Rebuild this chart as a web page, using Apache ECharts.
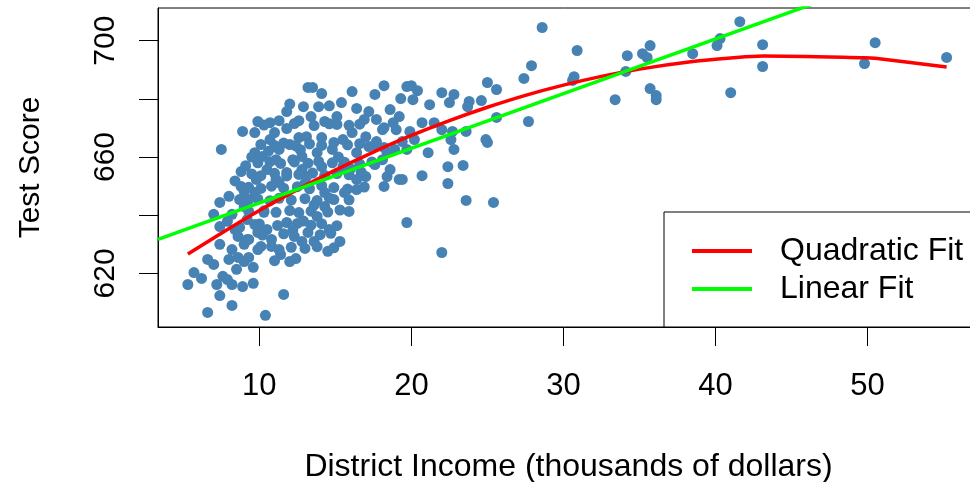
<!DOCTYPE html>
<html>
<head>
<meta charset="utf-8">
<script src="https://cdn.jsdelivr.net/npm/echarts@6/dist/echarts.min.js"></script>
<style>
html,body{margin:0;padding:0;background:#fff;}
#chart{width:970px;height:482px;}
</style>
</head>
<body>
<div id="chart"></div>
<script>
// District income (thousands of dollars) vs test score
const districts = [
  [5.3,616.2],[5.7,620.3],[6.2,618.3],[6.6,606.6],[6.6,624.8],[7.0,623.1],[7.2,616.2],[7.4,612.4],[7.6,619.0],[7.4,630.0],
  [7.4,636.1],[7.4,644.4],[8.2,628.2],[8.2,609.0],[8.2,616.2],[8.9,615.5],[8.0,624.8],[9.0,624.1],[7.5,662.6],[8.8,649.9],
  [8.4,635.1],[8.6,632.7],[9.0,643.0],[8.2,640.3],[9.2,638.5],[8.8,655.0],[8.9,668.8],[9.6,616.6],[9.6,622.1],[10.4,605.6],
  [9.9,628.2],[10.1,629.3],[9.7,647.8],[10.3,641.0],[10.5,635.1],[9.9,634.1],[10.8,629.3],[7.0,640.3],[7.9,637.9],[8.7,635.8],
  [9.3,631.7],[9.0,630.0],[8.6,625.5],[9.3,625.5],[8.5,621.4],[7.9,617.9],
  [9.7,668.4],[9.9,672.2],[10.7,671.8],[11.3,672.5],[11.8,675.6],[12.6,672.5],[12.9,677.3],[13.2,683.9],[11.0,668.4],[11.8,669.8],
  [10.7,666.0],[12.6,666.7],[9.7,661.5],[10.2,660.2],[11.3,662.6],[12.0,664.3],[11.1,659.1],[12.2,659.1],[10.5,655.7],[9.8,652.3],
  [11.8,654.7],[12.8,655.7],[11.1,652.3],
  [13.5,683.9],[14.1,681.8],[16.1,682.5],[18.2,684.5],[17.6,681.5],[19.3,680.1],[19.7,684.2],[15.4,678.7],[16.4,676.7],[13.9,677.3],
  [13.4,673.9],[14.3,672.2],[15.1,673.9],[15.1,671.2],[17.2,675.6],[17.7,672.9],[18.6,676.3],[19.2,673.9],[16.9,672.9],[16.1,668.4],
  [15.5,666.0],[14.1,666.7],[13.1,667.0],[17.0,667.0],[18.1,669.4],[19.0,669.4],[19.4,665.3],[14.8,662.6],[13.8,661.5],[16.4,661.5],
  [17.2,663.6],[18.4,661.5],[12.8,660.2],[14.1,656.7],[15.5,656.7],[17.0,653.3],[18.4,653.3],[19.2,652.3],[16.4,652.3],[13.1,653.3],
  [15.9,641.3],[15.3,631.0],[14.5,627.6],[12.4,625.1],[11.4,626.5],[11.6,612.8],[16.4,648.8],[14.6,635.1],[13.6,631.0],[12.8,631.0],
  [11.8,637.5],[13.8,639.6],[13.2,634.1],[12.3,632.7],[10.8,631.7],[11.3,628.2],[15.6,647.8],[14.9,645.4],[14.3,647.8],
  [20.0,684.5],[20.4,682.8],[20.1,679.7],[22.0,682.1],[22.8,681.5],[22.5,678.7],[23.8,679.1],[23.7,677.3],[24.6,679.4],[25.0,685.6],
  [25.6,683.2],[18.2,670.1],[18.8,671.8],[20.7,671.8],[21.5,671.8],[19.9,668.8],[22.0,669.4],[22.7,668.8],[22.6,666.0],[23.6,668.8],
  [25.6,673.6],[24.9,666.0],[25.0,665.0],[21.1,661.5],[22.8,662.6],[19.7,662.6],[18.2,663.3],[17.7,665.3],[18.1,659.1],[18.6,655.7],
  [19.4,652.3],[18.2,649.9],[20.7,653.6],[22.4,656.7],[23.4,657.1],[22.4,650.9],[23.6,645.1],[25.4,644.4],[19.7,637.5],[22.0,627.2],
  [28.6,704.5],[30.9,696.6],[27.9,691.4],[27.4,687.0],[27.7,672.2],[30.7,687.6],[30.6,686.3],[33.4,679.7],[34.2,694.8],[34.1,689.4],
  [35.2,695.5],[35.5,694.2],[35.7,698.3],[35.7,683.5],[36.1,681.1],[36.1,679.7],[41.6,706.5],[38.5,695.5],[40.3,700.7],[40.1,698.3],
  [43.1,698.6],[43.1,691.1],[41.0,682.1],[50.5,699.3],[49.8,692.1],[55.2,694.2],
  [10.1,664.3],[11.0,664.0],[11.6,664.8],[12.4,663.8],[13.3,664.5],[14.1,664.0],[14.9,665.0],[15.8,664.2],[16.6,664.6],[17.6,664.1],
  [9.9,658.0],[10.7,658.4],[11.4,657.8],[12.3,658.3],[13.2,657.9],[13.9,658.5],[14.8,658.0],[15.6,658.2],[16.6,657.6],[17.4,658.3],
  [9.5,654.2],[10.1,653.6],[11.0,654.4],[11.8,653.5],[12.6,654.0],[13.5,654.5],[14.3,653.7],[15.1,654.3],[15.9,653.9],[16.7,654.8],
  [9.3,649.6],[10.1,649.2],[10.8,650.0],[11.6,649.3],[12.5,649.8],[13.3,649.1],[14.1,650.2],[14.9,649.5],[15.8,649.0],[16.9,649.7],
  [9.9,645.6],[10.7,645.0],[11.3,645.8],[12.1,645.2],[13.0,645.7],[13.8,645.1],[14.6,645.9],[15.9,645.3],
  [10.3,641.5],[11.1,641.0],[12.0,641.6],[12.6,640.9],[13.4,641.4],[14.5,641.1],[15.3,641.8],
  [10.0,637.0],[11.2,636.5],[12.5,637.2],[13.4,636.6],[14.1,637.1],[15.1,636.4],
  [10.2,633.2],[11.6,633.6],[14.0,633.3],[14.7,633.8],
  [12.1,629.0],[13.0,628.6],[13.8,629.2],[14.9,628.8],[12.0,624.1],[11.0,624.4],
  [9.3,645.4],[9.0,648.2],[9.3,641.3],[9.7,636.8],[9.2,631.7],[8.7,645.4],
  [10.3,671.0],[12.3,671.5],[13.6,670.8],[14.6,671.4],[15.9,670.9],[16.6,671.3],[12.0,678.2],[14.6,677.6],
  [18.9,662.6],[17.6,657.4],[20.2,666.0],[21.2,678.0],
  [12.9,638.0],[13.6,643.5],[12.2,634.9],[14.3,643.0],[13.0,650.9],[11.3,651.2],
  [8.0,646.5],[8.4,651.8],[9.1,657.0],[9.5,660.0],[10.6,662.0],[12.7,662.5],[15.2,660.0],[16.0,656.0]
];

// Quadratic fit curve
const quadIncome = [5.3,7.5,10,12.5,15,17.5,20,22.5,25,27.5,30,32.5,35,38.5,41,43.1,49.8,50.5,55.2];
const quadScore  = [626.7,633.8,641.6,648.8,655.5,661.7,667.4,672.5,677.1,681.2,684.7,687.7,690.2,692.8,694.0,694.7,694.1,693.9,690.9];

// Linear fit line (spans the whole plot, clipped by the frame)
const linIncome = [3.335,57.33];
const linScore  = [631.7,733.1];

const xTicks = [10,20,30,40,50];
const yTicks = [620,640,660,680,700];
const yTickLabels = [620,660,700];

const FONT = '"Liberation Sans", Arial, Helvetica, sans-serif';

const chart = echarts.init(document.getElementById('chart'), null, {renderer:'canvas'});
chart.setOption({
  animation:false,
  backgroundColor:'#ffffff',
  grid:{left:158, top:8, right:-9, bottom:155, containLabel:false, outerBoundsMode:'none',
        show:true, borderColor:'#000', borderWidth:1, backgroundColor:'transparent'},
  xAxis:{
    type:'value', min:3.335, max:57.33,
    name:'District Income (thousands of dollars)', nameLocation:'middle', nameGap:124,
    nameTextStyle:{fontFamily:FONT, fontSize:32, color:'#000'},
    axisLine:{show:true, lineStyle:{color:'#000', width:1}},
    axisTick:{show:true, inside:false, length:19, customValues:xTicks, lineStyle:{color:'#000', width:1}},
    axisLabel:{show:true, margin:44, customValues:xTicks, fontFamily:FONT, fontSize:31, color:'#000'},
    splitLine:{show:false}
  },
  yAxis:{
    type:'value', min:601.6, max:711.2,
    name:'Test Score', nameLocation:'middle', nameGap:112, nameRotate:90,
    nameTextStyle:{fontFamily:FONT, fontSize:30, color:'#000'},
    axisLine:{show:true, lineStyle:{color:'#000', width:1}},
    axisTick:{show:true, inside:false, length:19, customValues:yTicks, lineStyle:{color:'#000', width:1}},
    axisLabel:{show:true, rotate:90, margin:37, customValues:yTickLabels, fontFamily:FONT, fontSize:30, color:'#000'},
    splitLine:{show:false}
  },
  legend:{
    data:['Quadratic Fit','Linear Fit'],
    orient:'vertical', left:664, top:212,
    icon:'rect',
    padding:[23,40,22,28], itemGap:6, itemWidth:60, itemHeight:4,
    backgroundColor:'#fff', borderColor:'#000', borderWidth:1, borderRadius:0,
    textStyle:{fontFamily:FONT, fontSize:32, lineHeight:32, color:'#000', padding:[0,0,0,23]}
  },
  series:[
    {
      name:'districts', type:'scatter', symbol:'circle', symbolSize:11,
      itemStyle:{color:'#4682B4', opacity:1},
      data:districts, z:2
    },
    {
      name:'Quadratic Fit', type:'line', symbol:'none', smooth:0.3, clip:true,
      lineStyle:{color:'#FF0000', width:3.5}, itemStyle:{color:'#FF0000'},
      data:quadIncome.map((x,i)=>[x,quadScore[i]]), z:3
    },
    {
      name:'Linear Fit', type:'line', symbol:'none', clip:true,
      lineStyle:{color:'#00FF00', width:3.5}, itemStyle:{color:'#00FF00'},
      data:linIncome.map((x,i)=>[x,linScore[i]]), z:3
    }
  ]
});
</script>
</body>
</html>
